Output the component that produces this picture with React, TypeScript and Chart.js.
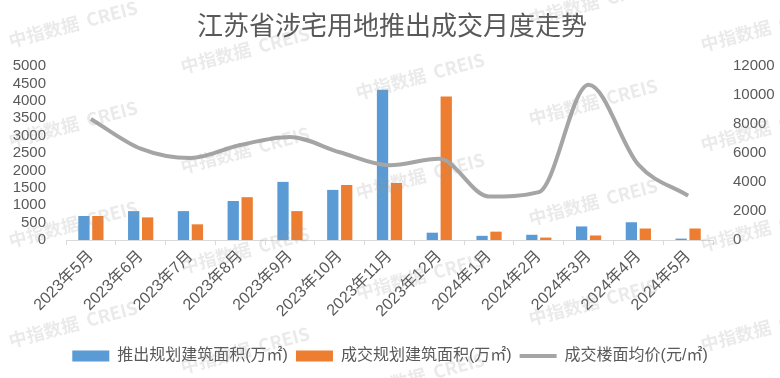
import React, { useEffect, useRef } from "react";
import { Chart, registerables } from "chart.js";

Chart.register(...registerables);

const categories = [
  "2023年5月", "2023年6月", "2023年7月", "2023年8月", "2023年9月", "2023年10月",
  "2023年11月", "2023年12月", "2024年1月", "2024年2月", "2024年3月", "2024年4月", "2024年5月",
];
const launchedArea = [690, 830, 830, 1120, 1670, 1440, 4320, 210, 120, 150, 390, 510, 40];
const dealArea = [690, 650, 450, 1230, 830, 1580, 1640, 4120, 240, 70, 130, 330, 330];
const avgPrice = [8350, 6300, 5650, 6550, 7100, 6050, 5150, 5600, 3000, 3300, 10700, 5200, 3050];

const leftMax = 5000;
const leftStep = 500;
const rightMax = 12000;
const rightStep = 2000;

const titleText = "江苏省涉宅用地推出成交月度走势";
const seriesNames = ["推出规划建筑面积(万㎡)", "成交规划建筑面积(万㎡)", "成交楼面均价(元/㎡)"];
const watermarkText = "中指数据  CREIS";

const FONT = '"Liberation Sans", "Noto Sans CJK SC", sans-serif';
const TEXT = "#595959";

const titlePlugin = {
  id: "customTitle",
  afterDraw(chart: any) {
    const ctx = chart.ctx;
    ctx.save();
    ctx.font = `26px "Noto Sans CJK SC", sans-serif`;
    ctx.fillStyle = TEXT;
    ctx.textAlign = "center";
    ctx.textBaseline = "middle";
    ctx.fillText(titleText, 392, 25);
    ctx.restore();
  },
};

const watermarkPlugin = {
  id: "watermark",
  afterDraw(chart: any) {
    const ctx = chart.ctx;
    ctx.save();
    ctx.font = `bold 18px "Noto Sans CJK SC", sans-serif`;
    ctx.fillStyle = "rgba(150,150,150,0.2)";
    ctx.textAlign = "center";
    ctx.textBaseline = "middle";
    const cols = [73, 245, 420, 593, 765];
    cols.forEach((cx, i) => {
      const off = (24 + i * 26) % 100;
      for (let y = off - 100; y < 420; y += 100) {
        ctx.save();
        ctx.translate(cx, y);
        ctx.rotate(-0.26);
        ctx.fillText(watermarkText, 0, 0);
        ctx.restore();
      }
    });
    ctx.restore();
  },
};

export default function App() {
  const ref = useRef<HTMLCanvasElement | null>(null);

  useEffect(() => {
    document.body.style.margin = "0";
    const canvas = ref.current;
    if (!canvas) return;
    const chart = new Chart(canvas, {
      type: "bar",
      data: {
        labels: categories,
        datasets: [
          {
            type: "line",
            label: seriesNames[2],
            data: avgPrice,
            yAxisID: "y1",
            borderColor: "#A5A5A5",
            backgroundColor: "#A5A5A5",
            borderWidth: 4,
            cubicInterpolationMode: "monotone",
            pointRadius: 0,
            pointStyle: "line",
            order: 0,
          } as any,
          {
            type: "bar",
            label: seriesNames[0],
            data: launchedArea,
            yAxisID: "y",
            backgroundColor: "#5B9BD5",
            categoryPercentage: 0.56,
            barPercentage: 0.81,
            pointStyle: "rect",
            order: 1,
          } as any,
          {
            type: "bar",
            label: seriesNames[1],
            data: dealArea,
            yAxisID: "y",
            backgroundColor: "#ED7D31",
            categoryPercentage: 0.56,
            barPercentage: 0.81,
            pointStyle: "rect",
            order: 1,
          } as any,
        ],
      },
      options: {
        responsive: false,
        animation: false,
        layout: { padding: { top: 66, left: 0, right: 0, bottom: 4 } },
        scales: {
          x: {
            grid: { display: true, drawOnChartArea: false, drawTicks: true, tickLength: 5, offset: true, color: "#D9D9D9" },
            border: { display: true, color: "#D9D9D9" },
            ticks: { color: TEXT, font: { family: FONT, size: 16 }, minRotation: 45, maxRotation: 45, padding: 2, autoSkip: false },
            afterFit: (s: any) => { s.height = 100; },
          },
          y: {
            position: "left",
            min: 0,
            max: leftMax,
            grid: { display: false },
            border: { display: false },
            ticks: {
              stepSize: leftStep, autoSkip: false, color: TEXT, font: { family: FONT, size: 15 }, padding: 12,
              callback: (v: any) => String(v),
            },
            afterFit: (s: any) => { s.width = 66; },
          },
          y1: {
            position: "right",
            min: 0,
            max: rightMax,
            grid: { display: false },
            border: { display: false },
            ticks: {
              stepSize: rightStep, autoSkip: false, color: TEXT, font: { family: FONT, size: 15 }, padding: 12,
              callback: (v: any) => String(v),
            },
            afterFit: (s: any) => { s.width = 67; },
          },
        },
        plugins: {
          title: { display: false },
          tooltip: { enabled: false },
          legend: {
            position: "bottom",
            labels: {
              color: TEXT,
              font: { family: FONT, size: 16 },
              usePointStyle: true,
              pointStyleWidth: 37,
              boxHeight: 11,
              padding: 8,
              sort: (a: any, b: any) => {
                const order = [1, 2, 0];
                return order.indexOf(a.datasetIndex) - order.indexOf(b.datasetIndex);
              },
            },
          },
        },
      },
      plugins: [titlePlugin, watermarkPlugin],
    } as any);
    return () => chart.destroy();
  }, []);

  return (
    <div style={{ position: "absolute", left: 0, top: 0, width: 780, height: 378 }}>
      <canvas ref={ref} width={780} height={378} style={{ display: "block" }} />
    </div>
  );
}
